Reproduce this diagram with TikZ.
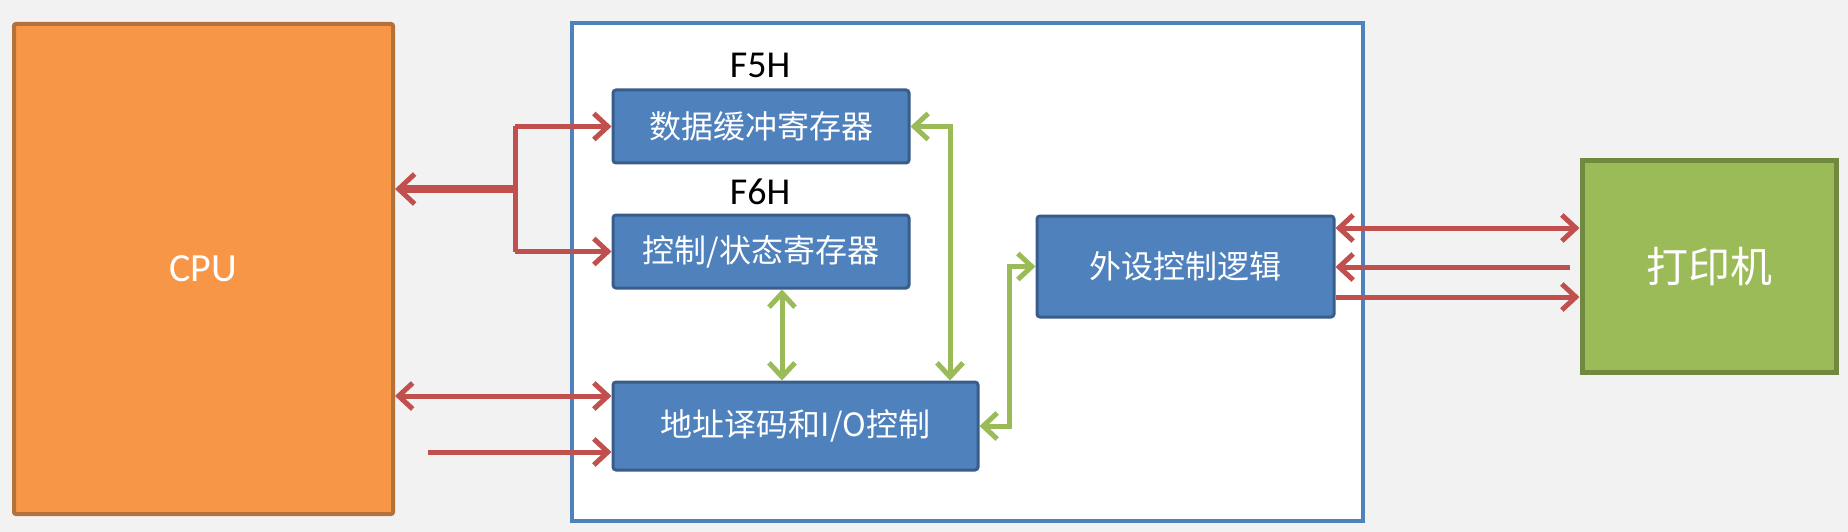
\documentclass[tikz,border=0pt]{standalone}
\usepackage{fontspec}
\setmainfont{Carlito}
\newfontfamily\cjk{Noto Sans CJK SC}
\usetikzlibrary{arrows.meta}
\definecolor{bgc}{HTML}{F2F2F2}
\definecolor{redc}{HTML}{C0504D}
\definecolor{greenc}{HTML}{9BBB59}
\definecolor{bluefill}{HTML}{4F81BD}
\definecolor{blueline}{HTML}{385D8A}
\definecolor{cpufill}{HTML}{F79646}
\definecolor{cpuline}{HTML}{B5713A}
\definecolor{prnline}{HTML}{71893F}
\begin{document}
\begin{tikzpicture}[x=1pt,y=-1pt,
  barb/.tip={Straight Barb[length=14pt,width=26pt]},
  regbox/.style={draw=blueline,fill=bluefill,line width=3pt,rounded corners=3pt,
    inner sep=0pt,text=white,font=\cjk\fontsize{32}{36}\selectfont},
  redarr/.style={draw=redc,line width=5pt},
  greenarr/.style={draw=greenc,line width=5pt},
  addrlabel/.style={font=\fontsize{38}{42}\selectfont,text=black,inner sep=0pt}
]
\fill[bgc] (0,0) rectangle (1848,532);
\useasboundingbox (0,0) rectangle (1848,532);

% main blocks
\node[draw=cpuline,fill=cpufill,line width=4pt,rounded corners=2pt,minimum width=379pt,minimum height=490pt,inner sep=0pt,
  text=white,font=\fontsize{40}{44}\selectfont] (cpu) at (203.5,269) {CPU};
\node[draw=bluefill,fill=white,line width=4pt,minimum width=791pt,minimum height=498pt,inner sep=0pt] (iface) at (967.5,272) {};
\node[draw=prnline,fill=greenc,line width=5pt,minimum width=254pt,minimum height=211pt,inner sep=0pt,
  text=white,font=\cjk\fontsize{42}{46}\selectfont] (prn) at (1709,266.5) {打印机};

% registers
\node[regbox,minimum width=296pt,minimum height=73pt] (data) at (761,126.5) {数据缓冲寄存器};
\node[regbox,minimum width=296pt,minimum height=73pt] (ctrl) at (761,251.5) {控制/状态寄存器};
\node[regbox,minimum width=365pt,minimum height=88pt] (addr) at (795.5,426) {地址译码和I/O控制};
\node[regbox,minimum width=297pt,minimum height=101pt] (periph) at (1185.5,266.5) {外设控制逻辑};

\node[addrlabel] (f5) at (760,65) {F5H};
\node[addrlabel] (f6) at (760,192) {F6H};

% coordinates
\coordinate (br) at (515,189);
\coordinate (ya) at (0,396);
\coordinate (s2) at (428,452);
\coordinate (g1) at (950,0);
\coordinate (g2) at (782,0);
\coordinate (g3) at (1009,0);
\coordinate (r1) at (0,228);
\coordinate (r2) at (1570,267);
\coordinate (r3) at (0,297);

% CPU side red connectors
\draw[redarr,line width=8pt,-{Straight Barb[length=16pt,width=30pt,line width=5pt]}] (br) -- (cpu.east |- br);
\draw[redarr,-barb] (br |- data.west) -- (data.west);
\draw[redarr] (br |- data.west) -- (br |- ctrl.west);
\draw[redarr,-barb] (br |- ctrl.west) -- (ctrl.west);
\draw[redarr,barb-barb] (cpu.east |- ya) -- (addr.west |- ya);
\draw[redarr,-barb] (s2) -- (addr.west |- s2);

% green internal connectors
\draw[greenarr,barb-barb] (data.east) -- (g1 |- data.east) -- (g1 |- addr.north);
\draw[greenarr,barb-barb] (g2 |- ctrl.south) -- (g2 |- addr.north);
\draw[greenarr,barb-barb] (addr.east) -- (g3 |- addr.east) -- (g3 |- periph.west) -- (periph.west);

% printer side red connectors
\draw[redarr,barb-barb] (periph.east |- r1) -- (prn.west |- r1);
\draw[redarr,-barb] (r2) -- (periph.east |- r2);
\draw[redarr,-barb] (periph.east |- r3) -- (prn.west |- r3);
\end{tikzpicture}
\end{document}
